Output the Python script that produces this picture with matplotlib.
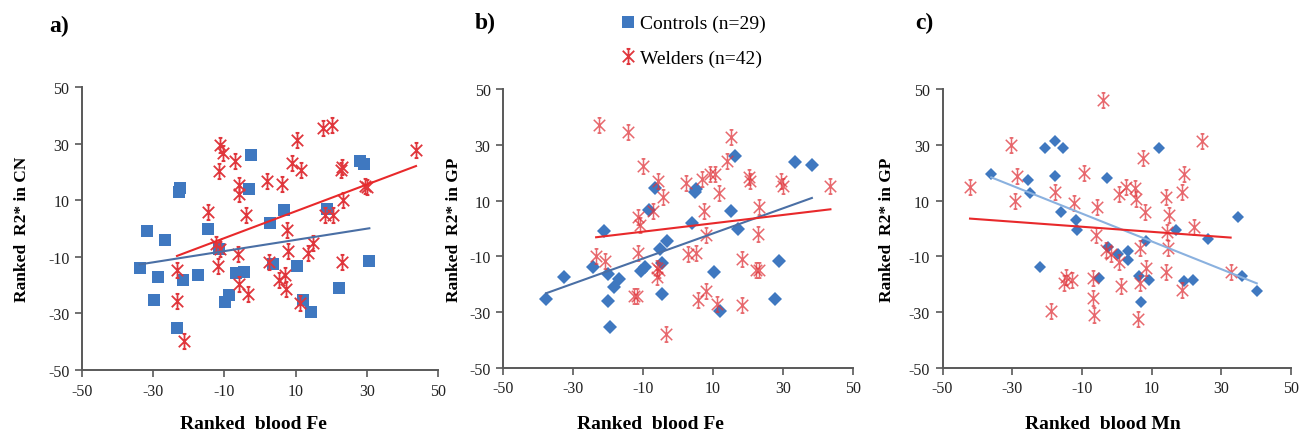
import numpy as np
import matplotlib
matplotlib.use("Agg")
import matplotlib.pyplot as plt
from matplotlib.path import Path
from matplotlib.lines import Line2D

# ---------------- data ----------------
# Panel a: Ranked blood Fe vs Ranked R2* in CN
a_ctrl_x = [-33.8, -31.7, -26.8, -28.6, -29.7, -22.4, -22.7, -23.2, -21.5, -17.4,
            -14.5, -11.6, -9.8, -8.7, -6.8, -4.4, -2.6, -3.2, 2.7, 3.6,
            6.6, 10.3, 12.2, 14.4, 18.9, 22.2, 28.2, 29.1, 30.7]
a_ctrl_y = [-13.8, -0.9, -4.1, -17.2, -25.1, 14.4, 12.9, -35.3, -18.2, -16.4,
            -0.1, -7.2, -25.8, -23.5, -15.7, -15.2, 26.1, 13.9, 1.9, -12.5,
            6.4, -13.4, -25.2, -29.4, 7.0, -21.1, 23.9, 22.8, -11.4]
a_weld_x = [-11.2, -10.4, -11.5, -6.9, -6.0, -6.0, -14.5, -3.9, -12.3, -11.2,
            -11.8, -6.3, -5.8, -3.4, -23.3, -23.3, -21.2, 1.9, 6.1, 10.5,
            8.9, 11.6, 17.8, 20.3, 7.7, 7.8, 2.5, 5.2, 7.1, 7.4,
            11.3, 15.0, 13.6, 18.3, 20.6, 22.7, 23.0, 23.2, 23.0, 29.5,
            30.0, 43.8]
a_weld_y = [29.4, 26.7, 20.3, 23.7, 15.2, 12.3, 5.8, 4.6, -5.4, -7.4,
            -13.1, -9.0, -19.6, -23.1, -14.5, -25.5, -39.6, 16.6, 15.6, 31.1,
            23.2, 20.8, 35.5, 36.4, -0.7, -7.9, -11.9, -18.2, -16.6, -21.3,
            -26.4, -5.2, -8.6, 4.8, 4.8, 20.5, 21.7, 9.9, -11.9, 15.0,
            14.6, 27.6]

# Panel b: Ranked blood Fe vs Ranked R2* in GP
b_ctrl_x = [-37.7, -32.5, -24.3, -21.1, -19.9, -19.9, -19.4, -18.2, -17.0, -10.6,
            -9.4, -8.2, -6.7, -5.1, -4.5, -4.5, -3.0, 4.0, 4.8, 5.1,
            10.3, 12.0, 15.3, 16.3, 17.2, 27.7, 28.9, 33.6, 38.3]
b_ctrl_y = [-25.2, -17.4, -14.0, -1.0, -16.3, -26.1, -35.3, -21.1, -18.3, -15.4,
            -13.8, 6.8, 14.4, -7.3, -12.4, -23.6, -4.5, 1.9, 13.2, 14.0,
            -15.6, -29.6, 6.4, 26.1, -0.1, -25.2, -11.5, 24.0, 22.8]
b_weld_x = [-22.7, -14.4, -10.1, -5.6, -4.2, -7.2, -11.3, -10.8, -11.5, -23.4,
            -21.0, -12.5, -11.8, -6.1, -6.1, -3.4, 2.2, 7.0, 9.3, 10.6,
            13.9, 15.3, 11.8, 7.4, 8.0, 2.8, 5.3, 8.0, 5.8, 11.2,
            18.2, 18.4, 20.3, 20.7, 23.2, 22.9, 22.4, 23.2, 29.4, 30.0,
            43.6, -5.3]
b_weld_y = [37.1, 34.5, 22.3, 17.2, 11.2, 6.1, 4.1, 1.1, -8.7, -9.7,
            -11.8, -24.3, -24.3, -14.2, -17.4, -37.9, 16.3, 17.8, 19.6, 19.6,
            24.1, 32.9, 12.8, 6.1, -2.3, -9.3, -8.8, -22.6, -25.8, -27.0,
            -27.3, -11.1, 18.4, 17.2, 7.6, -1.9, -14.8, -14.8, 17.2, 15.4,
            15.4, -15.0]

# Panel c: Ranked blood Mn vs Ranked R2* in GP
c_ctrl_x = [-36.0, -25.5, -25.0, -20.7, -17.8, -15.4, -17.7, -16.1, -11.8, -11.5,
            -22.0, -5.2, -2.8, -2.5, 0.4, 3.1, 3.1, 6.3, 9.2, 7.0,
            8.4, 12.0, 17.1, 19.2, 22.0, 26.3, 34.7, 35.9, 40.2]
c_ctrl_y = [19.5, 17.5, 12.7, 28.9, 31.2, 28.9, 18.9, 5.8, 3.2, -0.5,
            -13.9, -17.7, 18.1, -6.5, -9.1, -8.2, -11.3, -17.1, -18.5, -26.2,
            -4.4, 28.7, -0.5, -18.7, -18.5, -3.8, 4.2, -16.9, -22.5]
c_weld_x = [-42.1, -30.2, -28.7, -29.2, -19.0, -17.7, -12.3, -9.4, -14.5, -12.8,
            -15.0, -6.8, -6.9, -6.4, -5.8, -5.6, -3.9, -3.0, -1.5, 0.6,
            0.6, 1.3, 2.7, 5.3, 5.6, 7.5, 8.2, 6.8, 8.5, 6.8,
            6.1, 14.2, 14.9, 14.4, 14.6, 14.1, 18.7, 19.2, 18.7, 22.3,
            24.4, 32.7]
c_weld_y = [15.0, 29.9, 18.7, 10.0, -29.7, 13.0, 9.1, 19.9, -17.5, -18.5,
            -19.5, -17.7, -25.0, -30.9, -2.3, 7.6, 46.2, -7.9, -9.1, 12.4,
            -12.1, -20.5, 14.8, 14.4, 10.6, 25.3, 6.0, -7.1, -14.2, -19.5,
            -32.4, 11.2, 5.0, -1.1, -7.1, -15.5, 13.0, 19.5, -22.0, 0.4,
            31.2, -15.7]

panel_labels = ["a)", "b)", "c)"]
x_labels = ["Ranked  blood Fe", "Ranked  blood Fe", "Ranked  blood Mn"]
y_labels = ["Ranked  R2* in CN", "Ranked  R2* in GP", "Ranked  R2* in GP"]
legend_labels = ["Controls (n=29)", "Welders (n=42)"]
ticks = [-50, -30, -10, 10, 30, 50]

# ---------------- style ----------------
plt.rcParams['font.family'] = ['Liberation Serif', 'DejaVu Serif']
plt.rcParams['axes.unicode_minus'] = False
BLUE = "#3F78C0"
RED = "#E0363C"
RED_LINE = "#E8292B"
BLUE_LINE_AB = "#4A6FA5"
BLUE_LINE_C = "#8AB1DF"
SPINE = "#595959"

star = Path([(-0.75, -0.75), (0.75, 0.75), (-0.75, 0.75), (0.75, -0.75),
             (0, -1.0), (0, 1.0), (-0.25, 1.0), (0.25, 1.0), (-0.25, -1.0), (0.25, -1.0)],
            [Path.MOVETO, Path.LINETO] * 5)

fig = plt.figure(figsize=(13, 4.35), dpi=100)

positions = [
    [0.063, 0.147, 0.274, 0.651],
    [0.387, 0.152, 0.269, 0.641],
    [0.725, 0.152, 0.268, 0.641],
]

panels = [
    (a_ctrl_x, a_ctrl_y, a_weld_x, a_weld_y, 's', 8, BLUE_LINE_AB),
    (b_ctrl_x, b_ctrl_y, b_weld_x, b_weld_y, 'D', 7.5, BLUE_LINE_AB),
    (c_ctrl_x, c_ctrl_y, c_weld_x, c_weld_y, 'D', 6.5, BLUE_LINE_C),
]
star_alpha = [1.0, 0.75, 0.75]
star_lw = [1.3, 1.1, 1.1]

label_pos = [(0.038, 0.94), (0.365, 0.945), (0.704, 0.945)]
ylabel_coord = [-0.146, -0.117, -0.135]
xlabel_x = [0.195, 0.5, 0.848]

for i, (pos, pan) in enumerate(zip(positions, panels)):
    cx, cy, wx, wy, mk, ms, bline = pan
    ax = fig.add_axes(pos)
    ax.plot(cx, cy, linestyle='none', marker=mk, markersize=ms,
            color=BLUE, markeredgewidth=0, zorder=3)
    ax.plot(wx, wy, linestyle='none', marker=star, markersize=11,
            markerfacecolor='none', markeredgecolor=RED, markeredgewidth=star_lw[i],
            alpha=star_alpha[i], zorder=3)
    # linear trend lines fitted to each group
    for xs, ys, col in ((cx, cy, bline), (wx, wy, RED_LINE)):
        xs = np.asarray(xs); ys = np.asarray(ys)
        k, b = np.polyfit(xs, ys, 1)
        xx = np.array([xs.min(), xs.max()])
        ax.plot(xx, k * xx + b, color=col, linewidth=1.5, zorder=4)

    ax.set_xlim(-50, 50)
    ax.set_ylim(-50, 50)
    ax.set_xticks(ticks)
    ax.set_yticks(ticks)
    for s in ('top', 'right'):
        ax.spines[s].set_visible(False)
    for s in ('left', 'bottom'):
        ax.spines[s].set_color(SPINE)
        ax.spines[s].set_linewidth(1.4)
    ax.tick_params(direction='out', length=5, width=1.2, color=SPINE,
                   labelsize=11.5, labelcolor='#222222', pad=4)
    ax.set_ylabel(y_labels[i], fontsize=12.5, fontweight='bold')
    ax.yaxis.set_label_coords(ylabel_coord[i], 0.5)
    fig.text(xlabel_x[i], 0.025, x_labels[i], fontsize=14, fontweight='bold',
             ha='center', va='center')
    fig.text(label_pos[i][0], label_pos[i][1], panel_labels[i], fontsize=17,
             fontweight='bold', ha='left', va='center')

handles = [
    Line2D([], [], linestyle='none', marker='s', markersize=8, color=BLUE,
           markeredgewidth=0),
    Line2D([], [], linestyle='none', marker=star, markersize=11,
           markerfacecolor='none', markeredgecolor=RED, markeredgewidth=1.3),
]
fig.legend(handles, legend_labels, loc='upper left', bbox_to_anchor=(0.468, 0.995),
           frameon=False, fontsize=14, handlelength=0.6, handletextpad=0.3,
           labelspacing=0.85, borderpad=0.2)

fig.savefig("out.png", dpi=100)
